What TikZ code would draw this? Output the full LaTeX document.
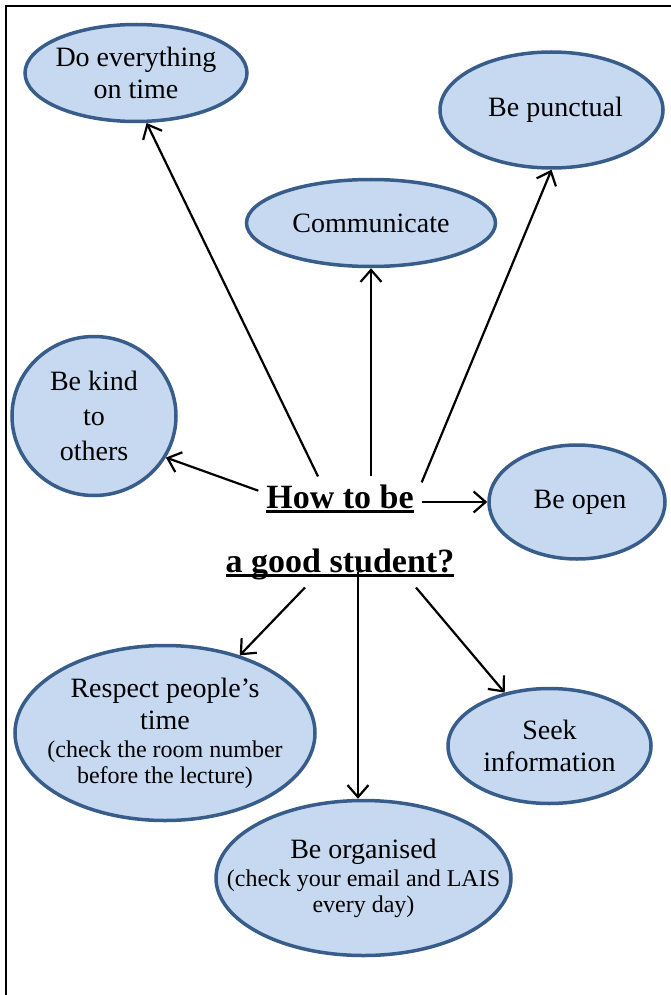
\documentclass[tikz,border=0pt]{standalone}
\usepackage{fontspec}
\setmainfont{Liberation Serif}
\usetikzlibrary{
    shapes.geometric,
    arrows.meta,
}
\definecolor{bubblefill}{RGB}{198,217,241}
\definecolor{bubbleline}{RGB}{56,93,138}
\tikzstyle{bubble} = [ellipse, draw=bubbleline, fill=bubblefill,
    line width=3.5pt, align=center, inner xsep=-45pt, inner ysep=-8pt,
    font=\fontsize{28}{32}\selectfont]
\tikzstyle{title} = [align=center, inner sep=0pt, outer sep=8pt,
    font=\fontsize{34}{40}\selectfont\bfseries]
\tikzstyle{line} = [draw, line width=2.2pt]
\newcommand{\ulbar}[1]{\setbox0=\hbox{#1}\rlap{\vrule height -2pt depth 5pt width \wd0}\box0}
\newcommand{\smalltext}{\fontsize{24}{26}\selectfont}

\begin{document}
\begin{tikzpicture}[x=1pt, y=-1pt, >={Straight Barb[length=12pt,width=21pt]}]
        \useasboundingbox (0,0) rectangle (671,995);
        % Page frame
        \draw [line width=2.4pt] (6,995) -- (6,6) -- (671,6);
        % Place nodes
        \node [title, anchor=base] (title1) at (340,508) {\ulbar{How to be}};
        \node [title, anchor=base] (title2) at (340,572) {\ulbar{a good student?}};
        \node [bubble, minimum width=222, minimum height=97] (doall) at (136,73) {Do everything\\on time};
        \node [bubble, minimum width=223, minimum height=116] (punct) at (551.5,110) {\hspace*{8pt}Be punctual};
        \node [bubble, minimum width=249, minimum height=87] (comm) at (371,223) {Communicate};
        \node [bubble, minimum width=164, minimum height=159] (kind) at (94,416) {Be kind\\[3pt]to\\[3pt]others};
        \node [bubble, minimum width=176, minimum height=114] (open) at (577,502) {\hspace*{6pt}Be open};
        \node [bubble, minimum width=300, minimum height=175] (respect) at (165,733)
            {Respect people’s\\time\\[-4pt]{\smalltext (check the room number}\\[-6pt]{\smalltext before the lecture)}};
        \node [bubble, minimum width=203, minimum height=115] (seek) at (549.5,746) {Seek\\information};
        \node [bubble, minimum width=295, minimum height=155] (organised) at (363.5,878)
            {Be organised\\[-4pt]{\smalltext (check your email and LAIS}\\[-6pt]{\smalltext every day)}};
        % Draw edges
        \path [->,line] ([xshift=-22pt]title1.north) -- (doall.-78);
        \path [->,line] (title1.north -| comm.south) -- (comm.south);
        \path [->,line] ([yshift=-6pt]title1.north east) -- (punct.south);
        \path [->,line] ([yshift=8pt]title1.west) -- (kind.-30);
        \path [->,line] (title1.east |- open.west) -- (open.west);
        \path [->,line] ([xshift=-35pt]title2.south) -- (respect);
        \path [->,line] ([xshift=18pt]title2.base) -- ([xshift=-5.5pt]organised.north);
        \path [->,line] ([xshift=76pt]title2.south) -- (seek.130);
    \end{tikzpicture}
\end{document}
